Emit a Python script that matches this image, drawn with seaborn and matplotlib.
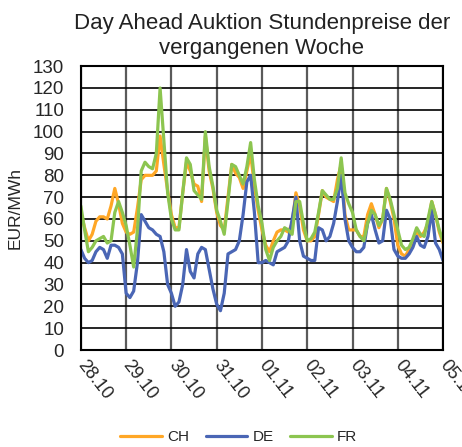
import matplotlib
matplotlib.use("Agg")
import matplotlib.pyplot as plt
import pandas as pd
import seaborn as sns

# Day-ahead hourly prices, sampled every 2 hours from 28.10 00:00 to 05.11 00:00
START = "2018-10-28 00:00"
STEP = "2h"

CH = [63, 56, 50, 53, 59, 61, 61, 60, 66, 74, 67, 58,
      54, 53, 54, 65, 78, 80, 80, 80, 82, 98, 85, 73,
      62, 56, 56, 72, 86, 82, 76, 75, 68, 98, 82, 74,
      63, 57, 55, 70, 85, 81, 79, 74, 82, 90, 75, 64,
      55, 48, 45, 50, 54, 55, 55, 54, 58, 72, 66, 55,
      50, 50, 52, 62, 73, 70, 69, 68, 78, 85, 62, 55,
      55, 55, 52, 52, 62, 67, 62, 56, 60, 74, 68, 60,
      48, 44, 43, 46, 49, 54, 52, 54, 58, 68, 62, 54,
      49]
DE = [46, 42, 40, 41, 45, 47, 46, 42, 48, 48, 47, 44,
      26, 24, 27, 40, 62, 59, 56, 55, 53, 52, 45, 30,
      26, 20, 22, 30, 46, 36, 33, 44, 47, 46, 37, 28,
      21, 18, 26, 44, 45, 46, 50, 62, 77, 80, 63, 40,
      40, 41, 40, 39, 45, 46, 47, 50, 60, 70, 50, 43,
      42, 41, 41, 56, 55, 50, 52, 58, 68, 80, 60, 50,
      47, 45, 45, 47, 58, 62, 55, 49, 50, 64, 60, 46,
      43, 42, 42, 44, 47, 52, 48, 47, 52, 64, 49, 46,
      41]
FR = [66, 55, 45, 47, 50, 51, 52, 49, 50, 63, 68, 63,
      57, 48, 38, 55, 82, 86, 84, 83, 90, 120, 96, 72,
      60, 55, 55, 72, 88, 85, 73, 71, 69, 100, 84, 75,
      64, 59, 53, 68, 85, 84, 80, 76, 84, 95, 78, 66,
      58, 46, 41, 47, 50, 52, 56, 55, 53, 68, 68, 58,
      50, 51, 54, 63, 73, 71, 69, 69, 74, 88, 72, 67,
      63, 55, 52, 50, 58, 64, 62, 57, 60, 74, 69, 62,
      55, 48, 46, 47, 51, 56, 53, 52, 60, 68, 62, 55,
      50]

DAY_LABELS = ["28.10", "29.10", "30.10", "31.10", "01.11",
              "02.11", "03.11", "04.11", "05.11"]
COUNTRIES = ["CH", "DE", "FR"]
COLORS = {"CH": "#FFA726", "DE": "#4A66B5", "FR": "#8CC550"}

sns.set_style("white")
plt.rcParams["font.family"] = ["Liberation Sans", "DejaVu Sans"]

times = pd.date_range(START, periods=len(CH), freq=STEP)
df = pd.DataFrame({"Zeit": times, "CH": CH, "DE": DE, "FR": FR})
df = df.melt(id_vars="Zeit", var_name="Land", value_name="Preis")

fig = plt.figure(figsize=(4.62, 4.47), dpi=100)
ax = fig.add_axes([0.175, 0.217, 0.784, 0.635])

sns.lineplot(data=df, x="Zeit", y="Preis", hue="Land", hue_order=COUNTRIES,
             palette=COLORS, linewidth=2.3, ax=ax, legend=False)

days = pd.date_range(START, periods=len(DAY_LABELS), freq="D")
ax.set_xlim(days[0], days[-1])
ax.set_ylim(0, 130)
ax.set_yticks(range(0, 131, 10))
ax.set_xticks(days)
ax.set_xticklabels(DAY_LABELS, rotation=-52, ha="left", va="center",
                   rotation_mode="anchor")

ax.grid(axis="y", color="black", linewidth=1.2)
ax.grid(axis="x", color="#5a5a5a", linewidth=1.6)
ax.set_axisbelow(True)
for sp in ax.spines.values():
    sp.set_color("black")
    sp.set_linewidth(1.5)

ax.tick_params(axis="y", length=0, pad=12, labelsize=13.5)
ax.tick_params(axis="x", length=0, pad=9, labelsize=13)
ax.set_xlabel("")
ax.set_ylabel("EUR/MWh", fontsize=12.5, labelpad=7)
ax.set_title("Day Ahead Auktion Stundenpreise der\nvergangenen Woche",
             fontsize=16, pad=9, color="#222222")

fig.legend(ax.get_lines()[:3], COUNTRIES, loc="center",
           bbox_to_anchor=(0.517, 0.022), ncol=3, frameon=False,
           fontsize=11, handlelength=2.7, handletextpad=0.35,
           columnspacing=1.1)

fig.savefig("out.png", dpi=100)
